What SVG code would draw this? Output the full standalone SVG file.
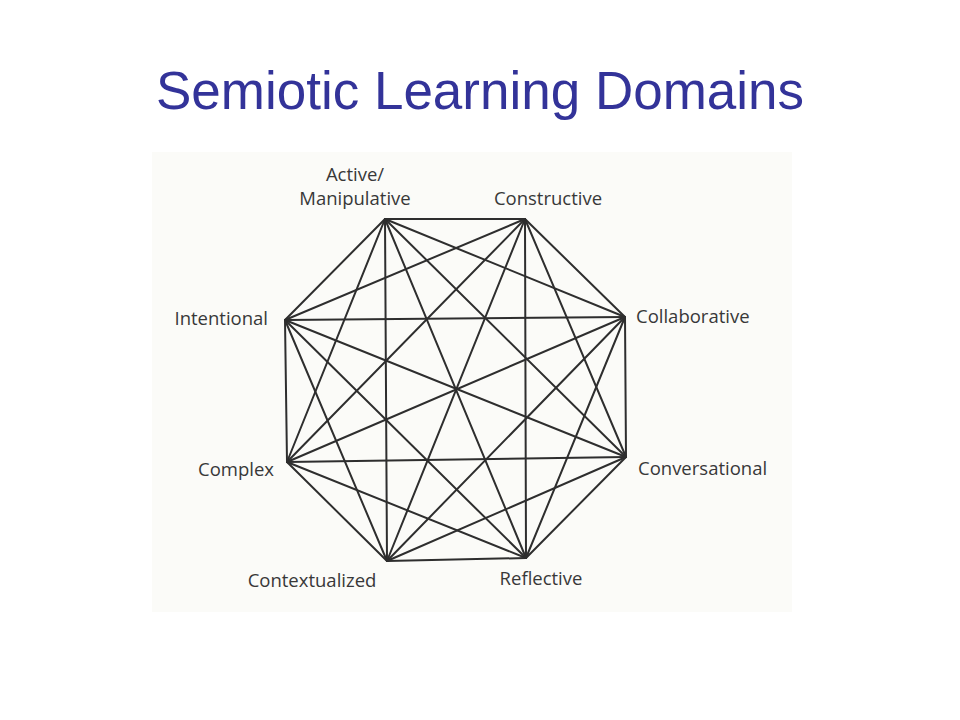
<svg xmlns="http://www.w3.org/2000/svg" width="960" height="720" viewBox="0 0 960 720">
<style>
.title{font-family:"Liberation Sans",Arial,sans-serif;font-size:53px;fill:#333399}
.lbl{font-family:"Open Sans","Noto Sans",sans-serif;font-size:18.5px;fill:#383838}
.e{stroke:#2e2e2e;stroke-width:2;stroke-linecap:round}
</style>
<rect width="960" height="720" fill="#ffffff"/>
<rect x="152" y="152" width="640" height="460" fill="#fbfbf8"/>
<text class="title" x="480" y="109" text-anchor="middle">Semiotic Learning Domains</text>
<g id="connectors">
<line class="e" x1="385" y1="219" x2="525" y2="219"/>
<line class="e" x1="385" y1="219" x2="625" y2="317"/>
<line class="e" x1="385" y1="219" x2="626" y2="457"/>
<line class="e" x1="385" y1="219" x2="526" y2="558"/>
<line class="e" x1="385" y1="219" x2="387" y2="561"/>
<line class="e" x1="385" y1="219" x2="287" y2="462"/>
<line class="e" x1="385" y1="219" x2="285" y2="320"/>
<line class="e" x1="525" y1="219" x2="625" y2="317"/>
<line class="e" x1="525" y1="219" x2="626" y2="457"/>
<line class="e" x1="525" y1="219" x2="526" y2="558"/>
<line class="e" x1="525" y1="219" x2="387" y2="561"/>
<line class="e" x1="525" y1="219" x2="287" y2="462"/>
<line class="e" x1="525" y1="219" x2="285" y2="320"/>
<line class="e" x1="625" y1="317" x2="626" y2="457"/>
<line class="e" x1="625" y1="317" x2="526" y2="558"/>
<line class="e" x1="625" y1="317" x2="387" y2="561"/>
<line class="e" x1="625" y1="317" x2="287" y2="462"/>
<line class="e" x1="625" y1="317" x2="285" y2="320"/>
<line class="e" x1="626" y1="457" x2="526" y2="558"/>
<line class="e" x1="626" y1="457" x2="387" y2="561"/>
<line class="e" x1="626" y1="457" x2="287" y2="462"/>
<line class="e" x1="626" y1="457" x2="285" y2="320"/>
<line class="e" x1="526" y1="558" x2="387" y2="561"/>
<line class="e" x1="526" y1="558" x2="287" y2="462"/>
<line class="e" x1="526" y1="558" x2="285" y2="320"/>
<line class="e" x1="387" y1="561" x2="287" y2="462"/>
<line class="e" x1="387" y1="561" x2="285" y2="320"/>
<line class="e" x1="287" y1="462" x2="285" y2="320"/>
</g>
<g id="active"><text class="lbl" x="355" y="181" text-anchor="middle">Active/</text><text class="lbl" x="355" y="205" text-anchor="middle">Manipulative</text></g>
<g id="constructive"><text class="lbl" x="548" y="205" text-anchor="middle">Constructive</text></g>
<g id="collaborative"><text class="lbl" x="636" y="323">Collaborative</text></g>
<g id="conversational"><text class="lbl" x="638" y="475">Conversational</text></g>
<g id="reflective"><text class="lbl" x="541" y="585" text-anchor="middle">Reflective</text></g>
<g id="contextualized"><text class="lbl" x="312" y="587" text-anchor="middle">Contextualized</text></g>
<g id="complex"><text class="lbl" x="274" y="476" text-anchor="end">Complex</text></g>
<g id="intentional"><text class="lbl" x="268" y="325" text-anchor="end">Intentional</text></g>
</svg>
